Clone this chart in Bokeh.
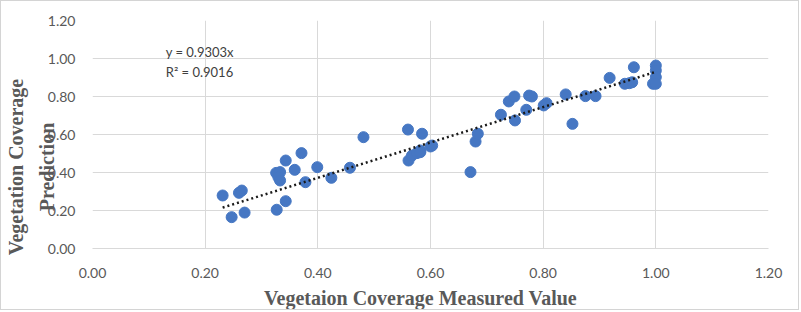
import math
from bokeh.plotting import figure
from bokeh.models import Label, FixedTicker, NumeralTickFormatter, Range1d, ColumnDataSource
from bokeh.embed import file_html
from bokeh.resources import INLINE

measured = [0.231, 0.247, 0.270, 0.260, 0.265, 0.327, 0.343, 0.326, 0.333, 0.330,
            0.333, 0.343, 0.359, 0.371, 0.378, 0.399, 0.424, 0.457, 0.481, 0.560,
            0.561, 0.567, 0.576, 0.582, 0.585, 0.600, 0.603, 0.671, 0.680, 0.684,
            0.725, 0.739, 0.749, 0.750, 0.770, 0.775, 0.780, 0.801, 0.806, 0.840,
            0.852, 0.875, 0.893, 0.918, 0.945, 0.953, 0.958, 0.961, 1.000, 1.000,
            1.000, 0.995, 1.000, 0.582]
predicted = [0.279, 0.165, 0.189, 0.293, 0.305, 0.204, 0.249, 0.398, 0.402, 0.375,
             0.358, 0.463, 0.414, 0.502, 0.349, 0.428, 0.372, 0.425, 0.586, 0.626,
             0.463, 0.489, 0.502, 0.516, 0.604, 0.537, 0.542, 0.402, 0.563, 0.604,
             0.704, 0.774, 0.800, 0.674, 0.730, 0.805, 0.800, 0.753, 0.765, 0.811,
             0.656, 0.802, 0.802, 0.898, 0.867, 0.870, 0.875, 0.954, 0.963, 0.937,
             0.902, 0.867, 0.867, 0.507]
trend_x = [0.231, 1.000]
trend_y = [0.215, 0.930]
ticks = [0.0, 0.2, 0.4, 0.6, 0.8, 1.0, 1.2]
equation = "y = 0.9303x"
r2_text = "R² = 0.9016"
x_title = "Vegetaion Coverage Measured Value"
y_title_1 = "Vegetation Coverage"
y_title_2 = "Prediction"

NB = "\u00a0"

p = figure(width=799, height=310, output_backend="svg", toolbar_location=None,
           x_range=Range1d(0, 1.2), y_range=Range1d(0, 1.2),
           min_border_left=91, min_border_right=32, min_border_top=19, min_border_bottom=63)
p.styles = {"border": "1px solid #d4d4d4"}
p.outline_line_color = None
p.background_fill_color = "white"
p.border_fill_color = "white"

for ax in (p.xaxis[0], p.yaxis[0]):
    ax.ticker = FixedTicker(ticks=ticks)
    ax.formatter = NumeralTickFormatter(format="0.00")
    ax.major_tick_line_color = None
    ax.minor_tick_line_color = None
    ax.major_label_text_font = "Lato"
    ax.major_label_text_font_size = "14px"
    ax.major_label_text_color = "#595959"
    ax.axis_label_text_font = "Liberation Serif"
    ax.axis_label_text_font_style = "bold"
    ax.axis_label_text_font_size = "20px"
    ax.axis_label_text_color = "#595959"
p.xaxis.axis_line_color = "#d9d9d9"
p.yaxis.axis_line_color = None
p.xaxis.major_label_standoff = 13
p.yaxis.major_label_standoff = 11

p.xaxis.axis_label = x_title + NB * 4
p.xaxis.axis_label_standoff = 6

p.yaxis.axis_label = (y_title_1 + NB * 13) + "\n" + (y_title_2 + NB * 13)
p.yaxis.axis_label_text_line_height = 1.4
p.yaxis.axis_label_standoff = -13

p.xgrid.ticker = FixedTicker(ticks=ticks)
p.ygrid.ticker = FixedTicker(ticks=ticks)
p.xgrid.grid_line_color = "#d9d9d9"
p.ygrid.grid_line_color = "#d9d9d9"

src = ColumnDataSource(dict(x=measured, y=predicted))
p.scatter("x", "y", source=src, size=11, fill_color="#4677c3", line_color="#4677c3")
p.line(trend_x, trend_y, line_color="#1a1a1a", line_width=2.5, line_dash="2 3")

p.add_layout(Label(x=0.130, y=1.033, text=equation, text_font="Lato", text_font_size="13px",
                   text_color="#404040", text_baseline="middle"))
p.add_layout(Label(x=0.130, y=0.930, text=r2_text, text_font="Lato", text_font_size="13px",
                   text_color="#404040", text_baseline="middle"))

open("out.html", "w").write(file_html(p, INLINE))
